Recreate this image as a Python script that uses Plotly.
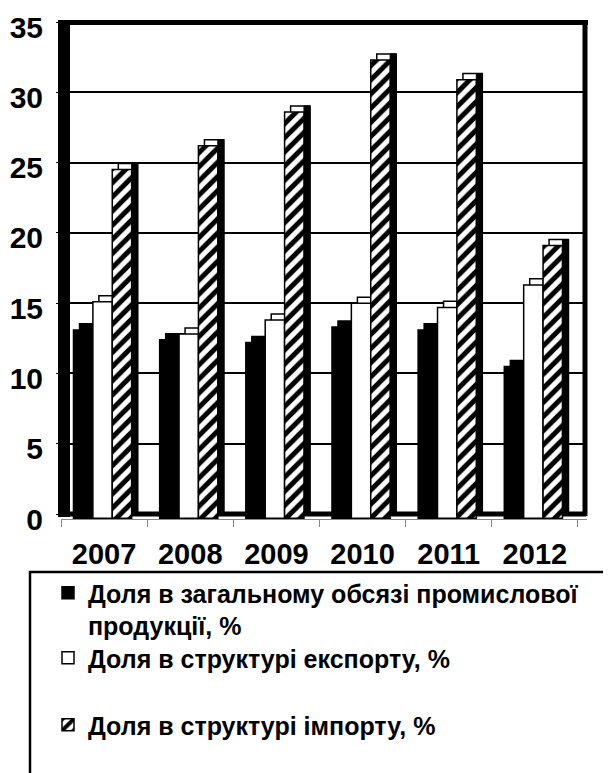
import plotly.graph_objects as go

years = ["2007", "2008", "2009", "2010", "2011", "2012"]
industry_share = [13.4, 12.7, 12.5, 13.6, 13.4, 10.8]
export_share = [15.4, 13.1, 14.1, 15.3, 15.0, 16.6]
import_share = [24.8, 26.5, 28.9, 32.6, 31.2, 19.4]

names = [
    "Доля в загальному обсязі промислової<br>продукції, %",
    "Доля в структурі експорту, %",
    "Доля в структурі імпорту, %",
]
y_ticks = [0, 5, 10, 15, 20, 25, 30, 35]

FONT = "Liberation Sans"
PAGE_OFF = 8                      # default page body margin
W, H = 611 - PAGE_OFF, 773 - PAGE_OFF
# plot area in page pixels: x 61..587, y 22..519
P_L, P_R, P_T, P_B = 61, 587, 22, 519
ML, MT = P_L - PAGE_OFF, P_T - PAGE_OFF
MR = W - (P_R - PAGE_OFF)
MB = H - (P_B - PAGE_OFF)
plot_w = P_R - P_L
plot_h = P_B - P_T

def px_x(px):
    return (px - P_L) / plot_w

def px_y(py):
    return (P_B - py) / plot_h

bw = 0.225          # bar width (category units)
offsets = [-0.355, -0.13, 0.095]
dx = 0.07           # depth horizontal
front_base = -0.3
depth_base = 0.13

series = [
    dict(vals=industry_share, face="black", pattern=None),
    dict(vals=export_share, face="white", pattern=None),
    dict(vals=import_share, face="white", pattern="/"),
]

fig = go.Figure()

# depth: top faces
for s, off in zip(series, offsets):
    fig.add_trace(go.Bar(
        x=years, y=s["vals"], base=depth_base, offset=off + dx, width=bw,
        marker=dict(color=s["face"] if s["pattern"] is None else "white",
                    line=dict(color="black", width=1.5)),
        showlegend=False, hoverinfo="skip"))
# depth: sides
for s, off in zip(series, offsets):
    fig.add_trace(go.Bar(
        x=years, y=s["vals"], base=depth_base, offset=off + bw, width=dx,
        marker=dict(color="black", line=dict(color="black", width=1)),
        showlegend=False, hoverinfo="skip"))
# front faces
legend_ids = ["legend", "legend2", "legend3"]
for s, off, nm, lg in zip(series, offsets, names, legend_ids):
    marker = dict(color=s["face"], line=dict(color="black", width=1.5))
    if s["pattern"]:
        marker["pattern"] = dict(shape="/", fgcolor="black", bgcolor="white",
                                 size=10, solidity=0.5)
    fig.add_trace(go.Bar(
        x=years, y=s["vals"], base=front_base, offset=off, width=bw,
        marker=marker, name=nm, legend=lg))

shapes = [
    # floor
    dict(type="line", xref="paper", yref="paper", x0=px_x(61), x1=px_x(586),
         y0=px_y(514), y1=px_y(514), line=dict(color="black", width=5), layer="below"),
    # top
    dict(type="line", xref="paper", yref="paper", x0=px_x(58), x1=px_x(588),
         y0=px_y(22.5), y1=px_y(22.5), line=dict(color="black", width=5)),
    # right
    dict(type="line", xref="paper", yref="paper", x0=px_x(585), x1=px_x(585),
         y0=px_y(516), y1=px_y(20), line=dict(color="black", width=5)),
    # left wall band
    dict(type="rect", xref="paper", yref="paper", x0=px_x(58), x1=px_x(70),
         y0=px_y(517), y1=px_y(20), fillcolor="black", line=dict(width=0)),
    # legend frame
    dict(type="rect", xref="paper", yref="paper", x0=px_x(30), x1=px_x(640),
         y0=px_y(800), y1=px_y(572), line=dict(color="black", width=2.5)),
]

legend_common = dict(bgcolor="rgba(0,0,0,0)", borderwidth=0, xanchor="left",
                     font=dict(family=FONT, size=25, color="black", weight="bold"),
                     itemclick=False, itemdoubleclick=False)

fig.update_layout(
    template="none",
    width=W, height=H,
    margin=dict(l=ML, r=MR, t=MT, b=MB, pad=0, autoexpand=False),
    paper_bgcolor="white", plot_bgcolor="white",
    barmode="overlay",
    font=dict(family=FONT, color="black"),
    xaxis=dict(type="category", range=[-0.5, 5.605], showgrid=False, automargin=False,
               showline=True, linecolor="#888888", linewidth=1, zeroline=False,
               ticks="outside", tickson="boundaries", ticklen=7, tickcolor="#888888",
               tickfont=dict(family=FONT, size=29, color="black", weight="bold"),
               ticklabelstandoff=9, ticklabeloverflow="allow"),
    yaxis=dict(range=[-0.35, 35], tickvals=y_ticks, showgrid=True, automargin=False,
               gridcolor="black", gridwidth=2, zeroline=False, showline=False,
               ticks="outside", ticklen=4, tickcolor="black",
               tickfont=dict(family=FONT, size=30, color="black", weight="bold"),
               ticklabelstandoff=7, ticklabelshift=5, ticklabeloverflow="allow"),
    shapes=shapes,
    legend=dict(**legend_common, x=px_x(48), y=px_y(570), yanchor="top", valign="top"),
    legend2=dict(**legend_common, x=px_x(48), y=px_y(658), yanchor="middle"),
    legend3=dict(**legend_common, x=px_x(48), y=px_y(725), yanchor="middle"),
    showlegend=True,
)

fig.write_html("out.html")
